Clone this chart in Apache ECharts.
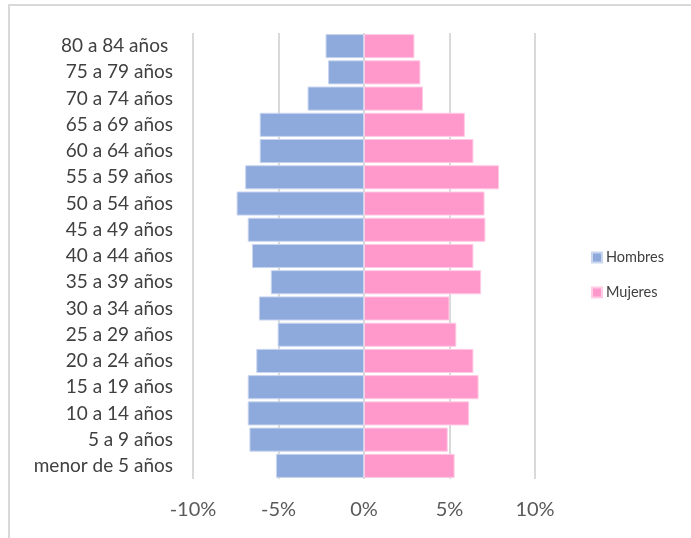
<!DOCTYPE html>
<html>
<head>
<meta charset="utf-8">
<script src="https://cdn.jsdelivr.net/npm/echarts@6/dist/echarts.min.js"></script>
<style>
  html, body { margin: 0; padding: 0; background: #fff; }
  #chart { width: 691px; height: 538px; }
</style>
</head>
<body>
<div id="chart"></div>
<script>
// age groups, bottom to top
const ageGroups = [
  'menor de 5 años', '5 a 9 años', '10 a 14 años', '15 a 19 años',
  '20 a 24 años', '25 a 29 años', '30 a 34 años', '35 a 39 años',
  '40 a 44 años', '45 a 49 años', '50 a 54 años', '55 a 59 años',
  '60 a 64 años', '65 a 69 años', '70 a 74 años', '75 a 79 años',
  '80 a 84 años '
]
// percent of population (men shown as negatives)
const hombres = [-5.15, -6.7, -6.8, -6.8, -6.3, -5.05, -6.15, -5.45, -6.55, -6.8, -7.45, -6.95, -6.1, -6.1, -3.3, -2.1, -2.25]
const mujeres = [5.3, 4.9, 6.15, 6.7, 6.4, 5.4, 5.0, 6.85, 6.4, 7.1, 7.05, 7.9, 6.4, 5.9, 3.45, 3.3, 2.95]
const xTicks = [-10, -5, 0, 5, 10]

const chart = echarts.init(document.getElementById('chart'))

const option = {
  animation: false,
  textStyle: { fontFamily: 'Lato' },
  graphic: [
    {
      type: 'polyline',
      shape: { points: [[9, 538], [9, 5], [691, 5]] },
      style: { stroke: '#d9d9d9', lineWidth: 2, fill: null },
    },
  ],
  legend: {
    orient: 'vertical',
    left: 586,
    top: 245,
    icon: 'rect',
    itemWidth: 10,
    itemHeight: 10,
    itemGap: 20,
    textStyle: { color: '#404040', fontSize: 14.5, padding: [0, 0, 0, -1] },
    data: ['Hombres', 'Mujeres'],
  },
  grid: { left: 193, right: 156, top: 33, bottom: 59 },
  xAxis: {
    type: 'value',
    min: xTicks[0],
    max: xTicks[xTicks.length - 1],
    interval: 5,
    axisLine: { show: false },
    axisTick: { show: false },
    splitLine: { lineStyle: { color: '#d9d9d9', width: 2 } },
    axisLabel: {
      color: '#595959',
      fontSize: 20,
      margin: 21,
      formatter: v => v + '%',
    },
  },
  yAxis: {
    type: 'category',
    data: ageGroups,
    axisLine: { show: false },
    axisTick: { show: false },
    axisLabel: { color: '#404040', fontSize: 19, margin: 20 },
  },
  series: [
    {
      name: 'Hombres',
      type: 'bar',
      stack: 'pop',
      data: hombres,
      barCategoryGap: '8%',
      itemStyle: { color: '#8eaadc', borderColor: '#c9d6ee', borderWidth: 1 },
    },
    {
      name: 'Mujeres',
      type: 'bar',
      stack: 'pop',
      data: mujeres,
      barCategoryGap: '8%',
      itemStyle: { color: '#ff99cc', borderColor: '#ffcce5', borderWidth: 1 },
    },
  ],
}

chart.setOption(option)
</script>
</body>
</html>
